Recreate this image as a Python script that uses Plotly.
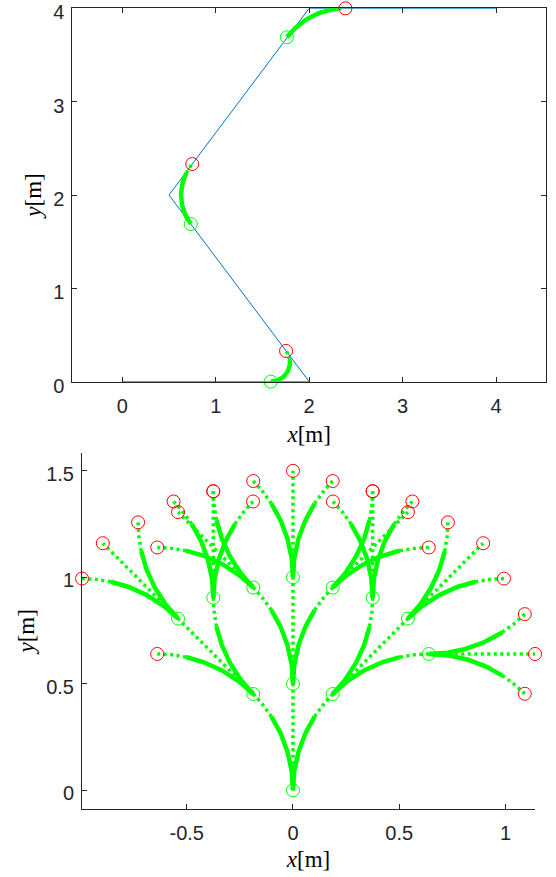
import numpy as np
import plotly.graph_objects as go

# ---------------- data ----------------
# Top panel: reference path (blue polyline)
path_x = [0, 2, 0.5, 2, 4]
path_y = [0, 0, 2, 4, 4]

# Top panel: three turning arcs (start pose -> end point)
arc_start_x = [1.589, 0.733, 1.762]
arc_start_y = [0.0, 1.689, 3.690]
arc_start_heading = [0.0, 126.87, 53.13]   # degrees
arc_end_x = [1.753, 0.749, 2.388]
arc_end_y = [0.329, 2.332, 4.0]
arc_solid_frac = [0.77, 0.83, 0.89]

# Bottom panel: lattice tree of motion primitives
tree_x = [0, 0, -0.187, 0.187, 0, -0.187, 0.187, 0, -0.187, 0.187,
          -0.541, -0.639, -0.375, 0.541, 0.639, 0.375,
          -0.541, -0.639, -0.375, 0.541, 0.375, 0.639,
          -0.895, -0.993, -0.729, -0.375, -0.562, -0.188,
          0.895, 0.729, 0.993, 0.375, 0.188, 0.562,
          1.139, 1.091, 1.091]
tree_y = [0, 0.5, 0.452, 0.452, 1.0, 0.952, 0.952, 1.5, 1.452, 1.452,
          1.306, 1.140, 1.404, 1.306, 1.140, 1.404,
          0.806, 0.640, 0.904, 0.806, 0.904, 0.640,
          1.160, 0.994, 1.258, 1.404, 1.356, 1.356,
          1.160, 1.258, 0.994, 1.404, 1.356, 1.356,
          0.640, 0.827, 0.453]
tree_heading = [90, 90, 135, 45, 90, 135, 45, 90, 135, 45,
                135, 180, 90, 45, 0, 90,
                135, 180, 90, 45, 90, 0,
                135, 180, 90, 90, 135, 45,
                45, 90, 0, 90, 135, 45,
                0, 45, -45]
tree_parent = [-1, 0, 0, 0, 1, 1, 1, 4, 4, 4,
               5, 5, 5, 6, 6, 6,
               2, 2, 2, 3, 3, 3,
               16, 16, 16, 18, 18, 18,
               19, 19, 19, 20, 20, 20,
               21, 21, 21]
tree_solid_frac = 0.73

# ---------------- geometry helpers ----------------
def arc_points(px, py, hdg, ex, ey, n=60):
    t = np.radians(hdg)
    nx, ny = -np.sin(t), np.cos(t)
    dx, dy = ex - px, ey - py
    s = dx * nx + dy * ny
    if abs(s) < 1e-6:
        u = np.linspace(0, 1, n)
        return px + u * dx, py + u * dy, False
    R = (dx * dx + dy * dy) / (2 * s)
    cx, cy = px + R * nx, py + R * ny
    a0 = np.arctan2(py - cy, px - cx)
    a1 = np.arctan2(ey - cy, ex - cx)
    if R > 0:
        sweep = (a1 - a0) % (2 * np.pi)
    else:
        sweep = -((a0 - a1) % (2 * np.pi))
    a = a0 + np.linspace(0, 1, n) * sweep
    r = abs(R)
    return cx + r * np.cos(a), cy + r * np.sin(a), True


def split_arc(px, py, hdg, ex, ey, frac):
    xs, ys, curved = arc_points(px, py, hdg, ex, ey)
    if not curved:
        return [], [], list(xs), list(ys)
    k = int(round(frac * (len(xs) - 1)))
    return list(xs[:k + 1]), list(ys[:k + 1]), list(xs[k:]), list(ys[k:])


GREEN = "#00FF00"
RED = "#FF0000"
BLUE = "#0072BD"
AX = "#262626"

fig = go.Figure()

# ---------------- top panel ----------------
fig.add_trace(go.Scatter(x=path_x, y=path_y, mode="lines",
                         line=dict(color=BLUE, width=1),
                         xaxis="x", yaxis="y", showlegend=False))
sx, sy, dxs, dys = [], [], [], []
for i in range(len(arc_start_x)):
    a, b, c, d = split_arc(arc_start_x[i], arc_start_y[i], arc_start_heading[i],
                           arc_end_x[i], arc_end_y[i], arc_solid_frac[i])
    sx += a + [None]; sy += b + [None]
    dxs += c + [None]; dys += d + [None]
fig.add_trace(go.Scatter(x=sx, y=sy, mode="lines", line=dict(color=GREEN, width=4.5),
                         xaxis="x", yaxis="y", showlegend=False, cliponaxis=False))
fig.add_trace(go.Scatter(x=dxs, y=dys, mode="lines",
                         line=dict(color=GREEN, width=3.5, dash="3px,3.5px"),
                         xaxis="x", yaxis="y", showlegend=False, cliponaxis=False))
fig.add_trace(go.Scatter(x=arc_start_x, y=arc_start_y, mode="markers",
                         marker=dict(symbol="circle-open", size=13, color=GREEN,
                                     line=dict(width=1, color=GREEN)),
                         xaxis="x", yaxis="y", showlegend=False, cliponaxis=False))
fig.add_trace(go.Scatter(x=arc_end_x, y=arc_end_y, mode="markers",
                         marker=dict(symbol="circle-open", size=13, color=RED,
                                     line=dict(width=1, color=RED)),
                         xaxis="x", yaxis="y", showlegend=False, cliponaxis=False))

# ---------------- bottom panel ----------------
sx, sy, dxs, dys = [], [], [], []
for i, p in enumerate(tree_parent):
    if p < 0:
        continue
    a, b, c, d = split_arc(tree_x[p], tree_y[p], tree_heading[p],
                           tree_x[i], tree_y[i], tree_solid_frac)
    if a:
        sx += a + [None]; sy += b + [None]
    dxs += c + [None]; dys += d + [None]
fig.add_trace(go.Scatter(x=sx, y=sy, mode="lines", line=dict(color=GREEN, width=4.5),
                         xaxis="x2", yaxis="y2", showlegend=False, cliponaxis=False))
fig.add_trace(go.Scatter(x=dxs, y=dys, mode="lines",
                         line=dict(color=GREEN, width=3.5, dash="3px,3.5px"),
                         xaxis="x2", yaxis="y2", showlegend=False, cliponaxis=False))
parents = set(p for p in tree_parent if p >= 0)
gx = [tree_x[i] for i in range(len(tree_x)) if i in parents]
gy = [tree_y[i] for i in range(len(tree_y)) if i in parents]
rx = [tree_x[i] for i in range(len(tree_x)) if i not in parents]
ry = [tree_y[i] for i in range(len(tree_y)) if i not in parents]
fig.add_trace(go.Scatter(x=gx, y=gy, mode="markers",
                         marker=dict(symbol="circle-open", size=13, color=GREEN,
                                     line=dict(width=1, color=GREEN)),
                         xaxis="x2", yaxis="y2", showlegend=False, cliponaxis=False))
fig.add_trace(go.Scatter(x=rx, y=ry, mode="markers",
                         marker=dict(symbol="circle-open", size=13, color=RED,
                                     line=dict(width=1, color=RED)),
                         xaxis="x2", yaxis="y2", showlegend=False, cliponaxis=False))

W, H = 556, 877
tick_font = dict(family="Liberation Sans, Arial, sans-serif", size=20, color=AX)
title_font = dict(family="Liberation Serif, Times New Roman, serif", size=23, color="#000000")

common = dict(showgrid=False, zeroline=False, showline=True, linecolor=AX, linewidth=1,
              ticks="inside", ticklen=5, tickcolor=AX, tickwidth=1, tickfont=tick_font,
              automargin=False, ticklabeloverflow="allow")

fig.update_layout(
    width=W, height=H,
    margin=dict(l=0, r=0, t=0, b=0),
    paper_bgcolor="white", plot_bgcolor="white",
    showlegend=False,
    xaxis=dict(domain=[72.3 / W, 546 / W], range=[-0.535, 4.535], anchor="y",
               tickvals=[0, 1, 2, 3, 4], mirror="ticks", ticklabelstandoff=6,
               title=dict(text="<i>x</i>[m]", font=title_font, standoff=10), **common),
    yaxis=dict(domain=[1 - 381.7 / H, 1 - 8.3 / H], range=[-0.0005, 4.0005], anchor="x",
               tickvals=[0, 1, 2, 3, 4], mirror="ticks", ticklabelstandoff=3,
               ticklabelshift=4,
               title=dict(text="<i>y</i>[m]", font=title_font, standoff=5), **common),
    xaxis2=dict(domain=[82 / W, 535 / W], range=[-0.993, 1.139], anchor="y2",
                tickvals=[-0.5, 0, 0.5, 1], ticktext=["-0.5", "0", "0.5", "1"],
                ticklabelstandoff=6,
                title=dict(text="<i>x</i>[m]", font=title_font, standoff=7), **common),
    yaxis2=dict(domain=[1 - 809 / H, 1 - 452.7 / H], range=[-0.088, 1.585], anchor="x2",
                tickvals=[0, 0.5, 1, 1.5], ticktext=["0", "0.5", "1", "1.5"],
                ticklabelstandoff=3, ticklabelshift=3,
                title=dict(text="<i>y</i>[m]", font=title_font, standoff=5), **common),
)

# remove the browser's default 8px body margin so the figure sits at (0, 0)
fig.write_html("out.html", config={"displayModeBar": False},
               post_script="document.body.style.margin='0';document.body.style.padding='0';")
